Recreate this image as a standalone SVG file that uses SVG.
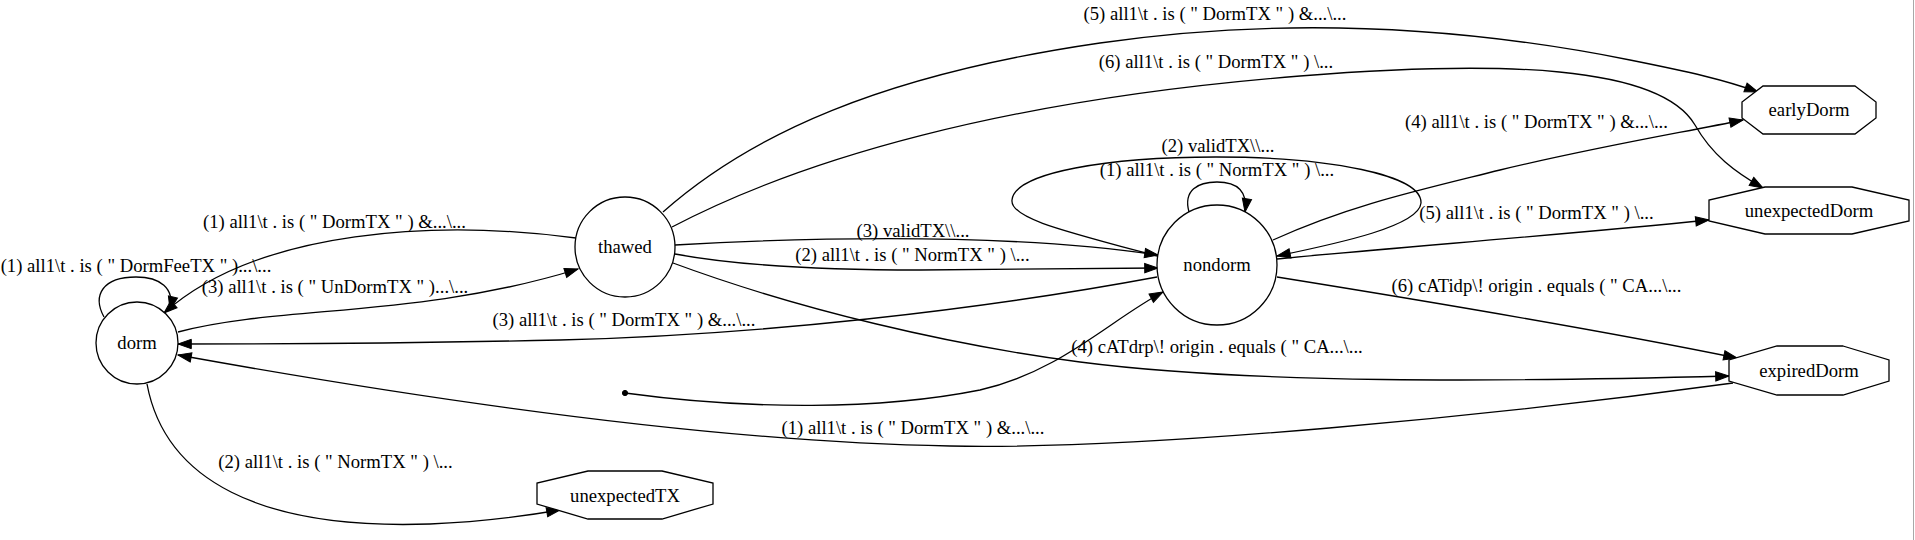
<svg xmlns="http://www.w3.org/2000/svg" width="1915" height="540" viewBox="0 0 1915 540">
<defs>
<style>
.n{fill:#fff;stroke:#000;stroke-width:1.3}
.a{fill:none;stroke:#000;stroke-width:1.3;marker-end:url(#ah)}
</style>
<marker id="ah" markerUnits="userSpaceOnUse" markerWidth="14" markerHeight="10" viewBox="0 0 14 10" refX="13.3" refY="4.67" orient="auto" overflow="visible">
<path d="M0,0 L13.3,4.67 L0,9.33 Z" fill="#000" stroke="#000" stroke-width="1"/>
</marker>
</defs>
<rect width="1915" height="540" fill="#fff"/>
<line x1="1913.5" y1="0" x2="1913.5" y2="540" stroke="#a8a8a8" stroke-width="1"/>
<g font-family="Liberation Serif, Times New Roman, serif" font-size="18.67" text-anchor="middle" fill="#000">
<g id="edges">
<path class="a" d="M104,317 C92,295 103,277 136,277 C160,277 175,288 170,310"/>
<path class="a" d="M178,332 C280,305 420,318 578,269"/>
<path class="a" d="M576,238 C440,220 260,228 164,313"/>
<path class="a" d="M147,384 C165,480 260,530 430,524 C480,522 525,516 560,510"/>
<path class="a" d="M1157,277 C980,310 760,335 560,340 C420,343 300,344 178,344"/>
<path class="a" d="M1733,383 C1500,415 1150,450 950,446 C700,442 400,395 178,355"/>
<path class="a" d="M675,245 C800,238 1000,232 1158,255"/>
<path class="a" d="M675,254 C740,266 820,270 920,270 C1000,270 1080,269 1158,268"/>
<path class="a" d="M663,212 C750,135 880,75 1100,43 C1300,14 1480,30 1630,60 C1690,72 1725,80 1758,92"/>
<path class="a" d="M672,227 C800,160 1000,100 1300,76 C1500,60 1660,65 1695,125 C1712,155 1735,172 1763,188"/>
<path class="a" d="M673,263 C800,310 950,345 1080,362 C1250,384 1500,382 1729,376"/>
<path class="a" d="M625,393 C750,410 880,410 980,390 C1060,372 1110,320 1163,292"/>
<path class="a" d="M1189,212 C1183,190 1198,182 1217,182 C1238,182 1248,192 1245,212"/>
<path class="a" d="M1157,256 C1060,230 1010,218 1012,200 C1015,172 1110,157 1216,157 C1330,157 1422,175 1421,203 C1419,226 1340,243 1277,256"/>
<path class="a" d="M1273,240 C1350,205 1420,190 1500,170 C1600,146 1680,133 1743,120"/>
<path class="a" d="M1277,259 C1400,247 1550,236 1709,220"/>
<path class="a" d="M1277,277 C1420,300 1600,330 1737,358"/>
<text x="136" y="272">(1) all1\t . is ( " DormFeeTX " )...\...</text>
<text x="335" y="293">(3) all1\t . is ( " UnDormTX " )...\...</text>
<text x="334.5" y="228">(1) all1\t . is ( " DormTX " ) &amp;...\...</text>
<text x="335.5" y="468">(2) all1\t . is ( " NormTX " ) \...</text>
<text x="624" y="326">(3) all1\t . is ( " DormTX " ) &amp;...\...</text>
<text x="913" y="434">(1) all1\t . is ( " DormTX " ) &amp;...\...</text>
<text x="913" y="237">(3) validTX\\...</text>
<text x="912.5" y="261">(2) all1\t . is ( " NormTX " ) \...</text>
<text x="1215" y="20">(5) all1\t . is ( " DormTX " ) &amp;...\...</text>
<text x="1216" y="68">(6) all1\t . is ( " DormTX " ) \...</text>
<text x="1217" y="353">(4) cATdrp\! origin . equals ( " CA...\...</text>
<text x="1217" y="176">(1) all1\t . is ( " NormTX " ) \...</text>
<text x="1218" y="152">(2) validTX\\...</text>
<text x="1536.5" y="128">(4) all1\t . is ( " DormTX " ) &amp;...\...</text>
<text x="1536.5" y="219">(5) all1\t . is ( " DormTX " ) \...</text>
<text x="1536.5" y="292">(6) cATidp\! origin . equals ( " CA...\...</text>
</g>
<g id="dorm"><circle class="n" cx="137" cy="343" r="41"/><text x="137" y="349">dorm</text></g>
<g id="thawed"><circle class="n" cx="625" cy="247" r="50"/><text x="625" y="253">thawed</text></g>
<g id="nondorm"><circle class="n" cx="1217" cy="265" r="60"/><text x="1217" y="271">nondorm</text></g>
<g id="start"><circle cx="625" cy="393" r="2.6" fill="#000" stroke="#000"/></g>
<g id="earlyDorm"><polygon class="n" points="1855,86 1876,102 1876,118 1855,134 1763,134 1742,118 1742,102 1763,86"/><text x="1809" y="116">earlyDorm</text></g>
<g id="unexpectedDorm"><polygon class="n" points="1852,187 1909,200 1909,221 1852,234 1765,234 1709,221 1709,200 1765,187"/><text x="1809" y="217">unexpectedDorm</text></g>
<g id="expiredDorm"><polygon class="n" points="1843,346 1889,360 1889,381 1843,395 1777,395 1729,381 1729,360 1777,346"/><text x="1809" y="377">expiredDorm</text></g>
<g id="unexpectedTX"><polygon class="n" points="662,471 713,483 713,504 662,519 588,519 537,504 537,483 588,471"/><text x="625" y="502">unexpectedTX</text></g>
</g>
</svg>
